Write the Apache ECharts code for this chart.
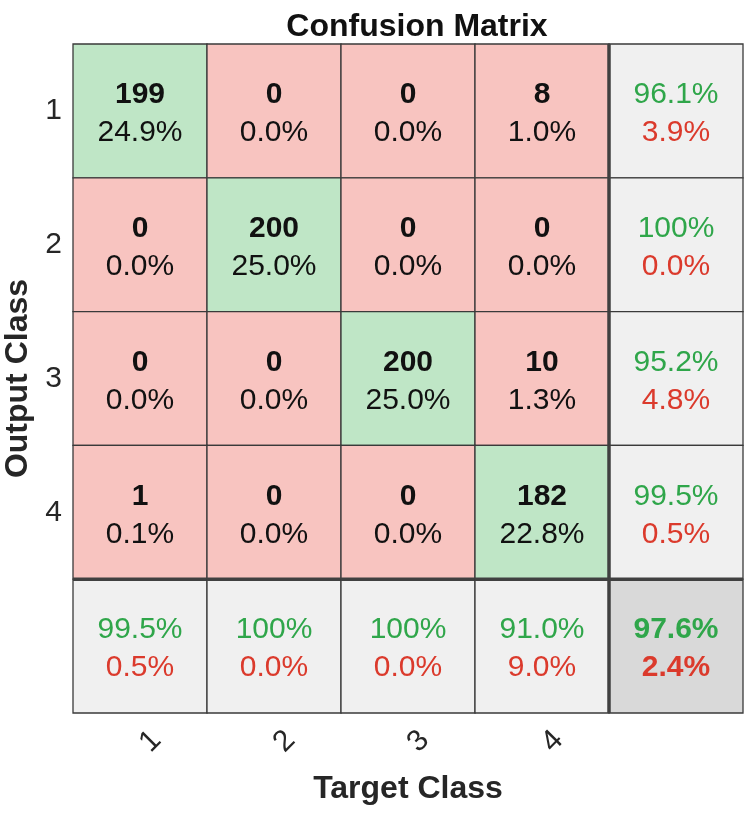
<!DOCTYPE html>
<html>
<head>
<meta charset="utf-8">
<style>
  html, body { margin: 0; padding: 0; background: #fff; }
  #chart { width: 756px; height: 815px; }
</style>
<script src="https://cdn.jsdelivr.net/npm/echarts@6/dist/echarts.min.js"></script>
</head>
<body>
<div id="chart"></div>
<script>
// rows are output class, columns are target class
const classes = ['1', '2', '3', '4']
const counts = [
    [199, 0, 0, 8],
    [0, 200, 0, 0],
    [0, 0, 200, 10],
    [1, 0, 0, 182]
]
const cellPercents = [
    ['24.9%', '0.0%', '0.0%', '1.0%'],
    ['0.0%', '25.0%', '0.0%', '0.0%'],
    ['0.0%', '0.0%', '25.0%', '1.3%'],
    ['0.1%', '0.0%', '0.0%', '22.8%']
]
// [correct, wrong] per output class (right column)
const rowSummary = [
    ['96.1%', '3.9%'],
    ['100%', '0.0%'],
    ['95.2%', '4.8%'],
    ['99.5%', '0.5%']
]
// [correct, wrong] per target class (bottom row)
const colSummary = [
    ['99.5%', '0.5%'],
    ['100%', '0.0%'],
    ['100%', '0.0%'],
    ['91.0%', '9.0%']
]
const totalSummary = ['97.6%', '2.4%']

const FONT = "'Liberation Sans', Arial, Helvetica, sans-serif"
const GREEN_CELL = '#bfe6c6'
const RED_CELL = '#f8c4c0'
const GRAY_CELL = '#f0f0f0'
const TOTAL_CELL = '#d9d9d9'
const GREEN_TEXT = '#2fa64a'
const RED_TEXT = '#db3a2c'

const axisCats = classes.concat([''])
const n = classes.length

// build cell items: [x, y, top text, bottom text, kind]
const cells = []
for (let y = 0; y < n; y++) {
    for (let x = 0; x < n; x++) {
        cells.push([x, y, String(counts[y][x]), cellPercents[y][x], x === y ? 'diag' : 'off'])
    }
}
for (let y = 0; y < n; y++) {
    cells.push([n, y, rowSummary[y][0], rowSummary[y][1], 'sum'])
}
for (let x = 0; x < n; x++) {
    cells.push([x, n, colSummary[x][0], colSummary[x][1], 'sum'])
}
cells.push([n, n, totalSummary[0], totalSummary[1], 'total'])

function renderCell(params, api) {
    const x = api.value(0)
    const y = api.value(1)
    const item = cells[params.dataIndex]
    const kind = item[4]
    const c = api.coord([x, y])
    const size = api.size([1, 1])
    const w = size[0], h = size[1]
    const left = c[0] - w / 2, top = c[1] - h / 2

    let fill = RED_CELL
    if (kind === 'diag') fill = GREEN_CELL
    if (kind === 'sum') fill = GRAY_CELL
    if (kind === 'total') fill = TOTAL_CELL

    const isMain = kind === 'diag' || kind === 'off'
    const children = [
        {
            type: 'rect',
            shape: { x: left, y: top, width: w, height: h },
            style: { fill: fill, stroke: '#3a3a3a', lineWidth: 1.3 }
        },
        {
            type: 'text',
            style: {
                text: item[2], x: c[0], y: c[1] - 16,
                align: 'center', verticalAlign: 'middle',
                fill: isMain ? '#111' : GREEN_TEXT,
                font: ((isMain || kind === 'total') ? 'bold ' : '') + '30px ' + FONT
            }
        },
        {
            type: 'text',
            style: {
                text: item[3], x: c[0], y: c[1] + 22,
                align: 'center', verticalAlign: 'middle',
                fill: isMain ? '#111' : RED_TEXT,
                font: (kind === 'total' ? 'bold ' : '') + '30px ' + FONT
            }
        }
    ]
    // heavier separator around the summary row/column
    if (x === n) {
        children.push({
            type: 'line',
            shape: { x1: left, y1: top, x2: left, y2: top + h },
            style: { stroke: '#404040', lineWidth: 3.5 }
        })
    }
    if (y === n) {
        children.push({
            type: 'line',
            shape: { x1: left, y1: top, x2: left + w, y2: top },
            style: { stroke: '#404040', lineWidth: 3.5 }
        })
    }
    return { type: 'group', children: children }
}

const chart = echarts.init(document.getElementById('chart'))

chart.setOption({
    animation: false,
    backgroundColor: '#fff',
    textStyle: { fontFamily: FONT },
    title: {
        text: 'Confusion Matrix',
        left: 412,
        textAlign: 'center',
        top: 6,
        textStyle: { fontSize: 32, fontWeight: 'bold', color: '#111', fontFamily: FONT }
    },
    grid: {
        left: 73,
        right: 13,
        top: 44,
        bottom: 102,
        outerBoundsMode: 'none',
        containLabel: false
    },
    xAxis: {
        type: 'category',
        data: axisCats,
        name: 'Target Class',
        nameLocation: 'middle',
        nameGap: 60,
        nameTextStyle: { fontSize: 32, fontWeight: 'bold', color: '#262626', fontFamily: FONT },
        axisLine: { show: false },
        axisTick: { show: false },
        splitLine: { show: false },
        axisLabel: {
            rotate: 45,
            align: 'center',
            verticalAlign: 'top',
            margin: 18,
            fontSize: 30,
            color: '#262626',
            fontFamily: FONT
        }
    },
    yAxis: {
        type: 'category',
        data: axisCats,
        inverse: true,
        name: 'Output Class',
        nameLocation: 'middle',
        nameGap: 33,
        nameRotate: 90,
        nameTextStyle: { fontSize: 32, fontWeight: 'bold', color: '#262626', fontFamily: FONT },
        axisLine: { show: false },
        axisTick: { show: false },
        splitLine: { show: false },
        axisLabel: {
            margin: 11,
            fontSize: 30,
            color: '#262626',
            fontFamily: FONT
        }
    },
    series: [{
        type: 'custom',
        renderItem: renderCell,
        data: cells.map(cell => [cell[0], cell[1]]),
        encode: { x: 0, y: 1 },
        silent: true
    }]
})
</script>
</body>
</html>
